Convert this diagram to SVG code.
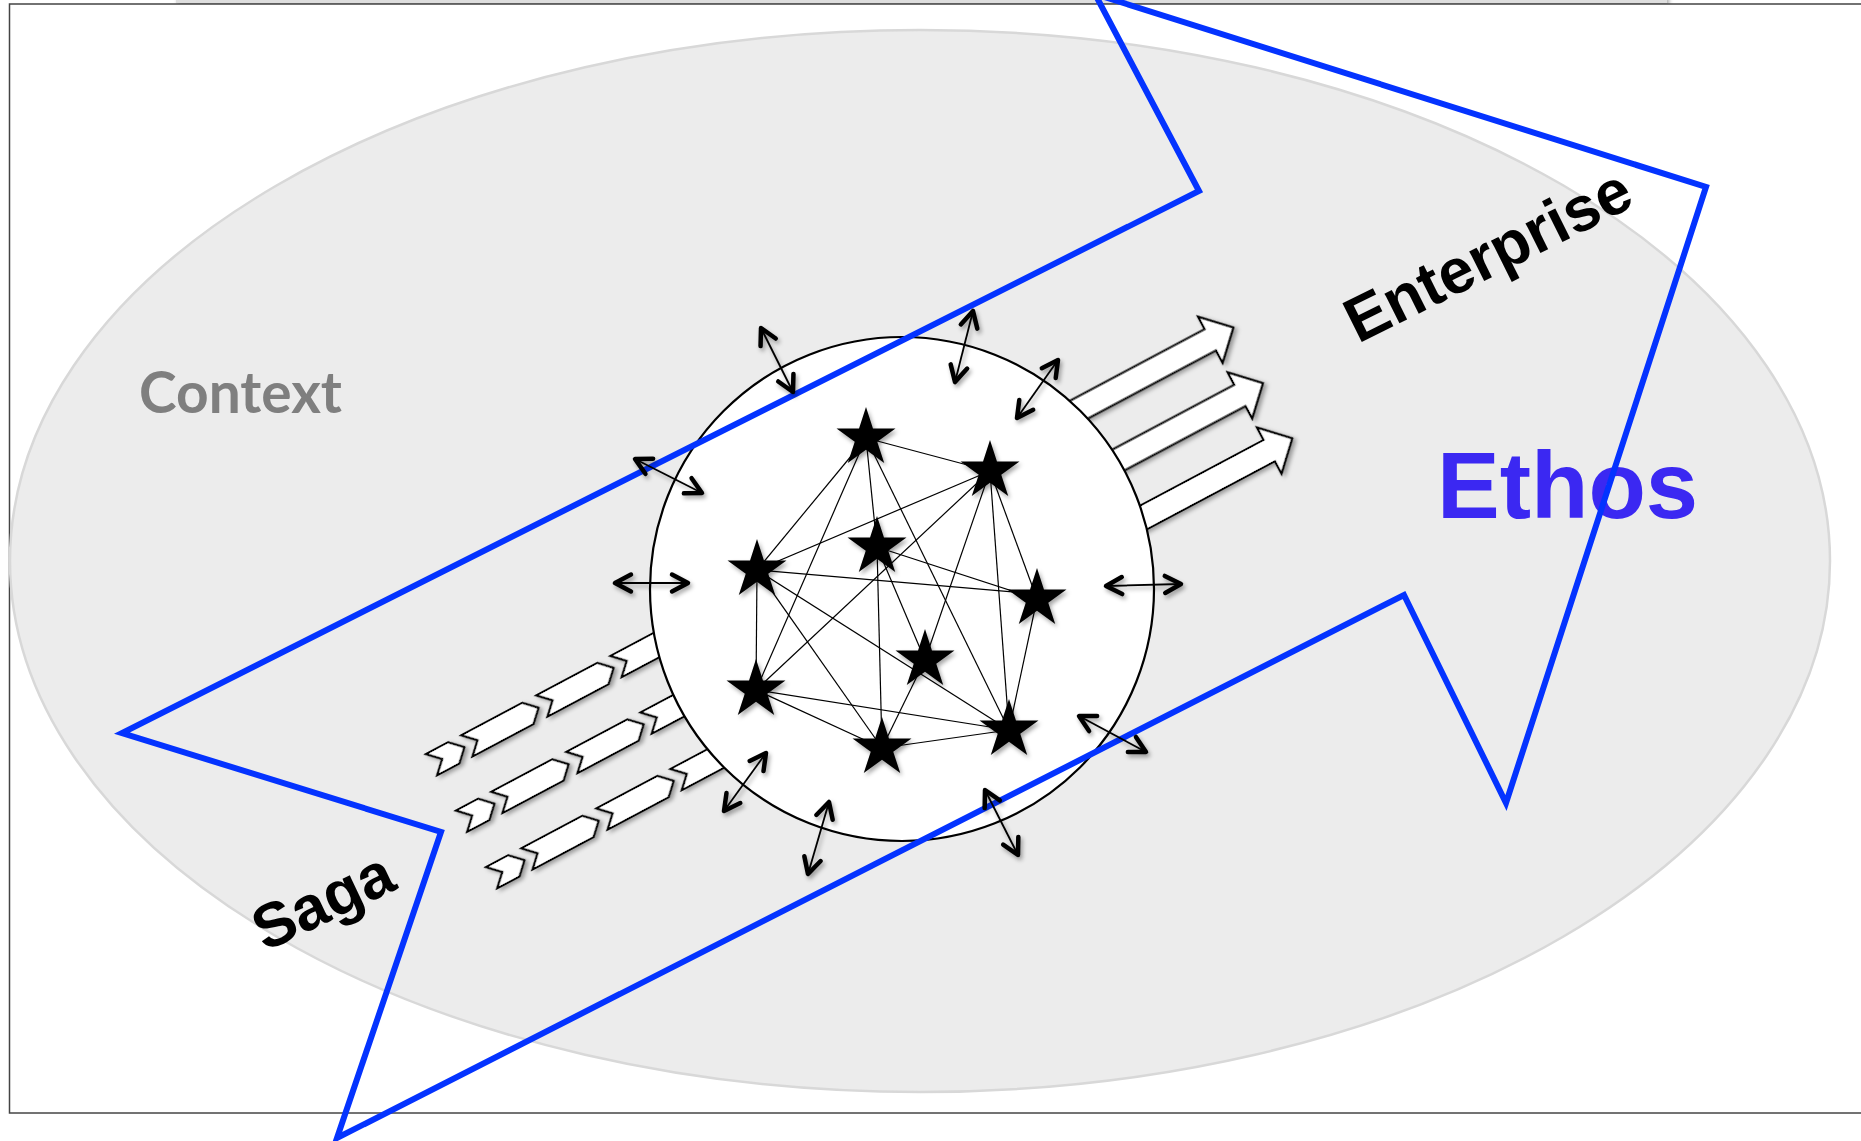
<svg xmlns="http://www.w3.org/2000/svg" width="1861" height="1141" viewBox="0 0 1861 1141">
<defs>
<style>
.page{fill:#fff;stroke:#444;stroke-width:1.5}
.ctx{fill:#ececec;stroke:#d8d8d8;stroke-width:2.5}
.blk{fill:#fff;stroke:#000;stroke-width:2.2;stroke-linejoin:miter}
.edge{stroke:#000;stroke-width:1.2;fill:none}
.star{fill:#000}
.dbl{stroke:#000;stroke-width:1.8;fill:none;marker-start:url(#dh);marker-end:url(#dh)}
.frame{fill:none;stroke:#0433ff;stroke-width:6;stroke-linejoin:miter}
.lbl{font-family:"Liberation Sans",Arial,sans-serif;font-weight:bold}
</style>
<filter id="sh" x="-20%" y="-20%" width="150%" height="150%">
<feDropShadow dx="2" dy="3" stdDeviation="2" flood-color="#000" flood-opacity="0.35"/>
</filter>
<marker id="dh" markerUnits="userSpaceOnUse" markerWidth="40" markerHeight="40" viewBox="-20 -20 40 40" refX="0" refY="0" orient="auto-start-reverse" overflow="visible">
<path d="M-16,-8.5 L0,0 L-16,8.5" fill="none" stroke="#000" stroke-width="4.5" stroke-linecap="round" stroke-linejoin="round"/>
</marker>
<path id="star" d="M0,-31 L6.96,-9.58 L29.48,-9.58 L11.26,3.66 L18.22,25.08 L0,11.84 L-18.22,25.08 L-11.26,3.66 L-29.48,-9.58 L-6.96,-9.58 Z"/>
</defs>

<rect x="0" y="0" width="1861" height="1141" fill="#fff"/>
<rect x="176" y="-6" width="1491" height="9" fill="#dedede" filter="url(#sh)"/>
<rect class="page" x="9.5" y="4" width="1900" height="1109"/>

<g id="context">
<ellipse class="ctx" cx="920" cy="561" rx="910" ry="531"/>
<text x="139" y="413" font-size="57" font-weight="bold" fill="#7f7f7f" textLength="203" lengthAdjust="spacingAndGlyphs" style="font-family:Lato,'Open Sans',sans-serif">Context</text>
</g>

<g id="saga-flows" transform="translate(426,754) rotate(-28)" filter="url(#sh)">
<polygon class="blk" points="0,0 25,0 37,12 25,24 0,24 12,12"/>
<polygon class="blk" points="40,0 109,0 121,12 109,24 40,24 52,12"/>
<polygon class="blk" points="125,0 194,0 206,12 194,24 125,24 137,12"/>
<polygon class="blk" points="209,0 468,0 480,12 468,24 209,24 221,12"/>
<polygon class="blk" points="0,64 25,64 37,76 25,88 0,88 12,76"/>
<polygon class="blk" points="40,64 109,64 121,76 109,88 40,88 52,76"/>
<polygon class="blk" points="125,64 194,64 206,76 194,88 125,88 137,76"/>
<polygon class="blk" points="209,64 468,64 480,76 468,88 209,88 221,76"/>
<polygon class="blk" points="0,128 25,128 37,140 25,152 0,152 12,140"/>
<polygon class="blk" points="40,128 109,128 121,140 109,152 40,152 52,140"/>
<polygon class="blk" points="125,128 194,128 206,140 194,152 125,152 137,140"/>
<polygon class="blk" points="209,128 468,128 480,140 468,152 209,152 221,140"/>
</g>

<g id="enterprise-flows" transform="translate(426,754) rotate(-28)" filter="url(#sh)">
<polygon class="blk" points="500,-9.5 887,-9.5 887,-23.5 913,2.5 887,28.5 887,14.5 500,14.5"/>
<polygon class="blk" points="500,53.5 887,53.5 887,39.5 913,65.5 887,91.5 887,77.5 500,77.5"/>
<polygon class="blk" points="500,116 887,116 887,102 913,128 887,154 887,140 500,140"/>
</g>

<g id="core">
<circle cx="902" cy="589" r="252" fill="#fff" stroke="#000" stroke-width="2.2"/>
</g>

<g id="connectors">
<line class="edge" x1="866" y1="438" x2="990" y2="471"/>
<line class="edge" x1="866" y1="438" x2="757" y2="570"/>
<line class="edge" x1="866" y1="438" x2="756" y2="690"/>
<line class="edge" x1="866" y1="438" x2="877" y2="547"/>
<line class="edge" x1="866" y1="438" x2="1009" y2="730"/>
<line class="edge" x1="990" y1="471" x2="757" y2="570"/>
<line class="edge" x1="990" y1="471" x2="756" y2="690"/>
<line class="edge" x1="990" y1="471" x2="925" y2="660"/>
<line class="edge" x1="990" y1="471" x2="1009" y2="730"/>
<line class="edge" x1="990" y1="471" x2="1037" y2="599"/>
<line class="edge" x1="877" y1="547" x2="1037" y2="599"/>
<line class="edge" x1="877" y1="547" x2="882" y2="748"/>
<line class="edge" x1="877" y1="547" x2="925" y2="660"/>
<line class="edge" x1="757" y1="570" x2="1037" y2="594"/>
<line class="edge" x1="757" y1="570" x2="756" y2="690"/>
<line class="edge" x1="757" y1="570" x2="882" y2="748"/>
<line class="edge" x1="757" y1="570" x2="1009" y2="730"/>
<line class="edge" x1="1037" y1="599" x2="1009" y2="730"/>
<line class="edge" x1="925" y1="660" x2="882" y2="748"/>
<line class="edge" x1="756" y1="690" x2="1009" y2="730"/>
<line class="edge" x1="756" y1="690" x2="882" y2="748"/>
<line class="edge" x1="882" y1="748" x2="1009" y2="730"/>
</g>

<g id="stars" filter="url(#sh)">
<use id="star1" href="#star" class="star" x="866" y="438"/>
<use id="star2" href="#star" class="star" x="990" y="471"/>
<use id="star3" href="#star" class="star" x="877" y="547"/>
<use id="star4" href="#star" class="star" x="757" y="570"/>
<use id="star5" href="#star" class="star" x="1037" y="599"/>
<use id="star6" href="#star" class="star" x="925" y="660"/>
<use id="star7" href="#star" class="star" x="756" y="690"/>
<use id="star8" href="#star" class="star" x="882" y="748"/>
<use id="star9" href="#star" class="star" x="1009" y="730"/>
</g>

<g id="ethos-frame">
<text class="lbl" x="1437" y="518" font-size="94" fill="#3b28f2">Ethos</text>
<polygon class="frame" points="1095,-6 1199,191 122,733 441,832 337,1138 1404,595 1506,803 1706,187"/>
<text class="lbl" font-size="63" fill="#000" transform="translate(1358,344) rotate(-26.5)">Enterprise</text>
<text class="lbl" font-size="62" fill="#000" transform="translate(265,952) rotate(-25.5)">Saga</text>
</g>

<g id="exchanges" filter="url(#sh)">
<line class="dbl" x1="761" y1="328" x2="793" y2="392"/>
<line class="dbl" x1="973" y1="311" x2="955" y2="382"/>
<line class="dbl" x1="1058" y1="360" x2="1017" y2="418"/>
<line class="dbl" x1="635" y1="459" x2="702" y2="493"/>
<line class="dbl" x1="615" y1="583" x2="688" y2="583"/>
<line class="dbl" x1="1106" y1="586" x2="1181" y2="584"/>
<line class="dbl" x1="1079" y1="716" x2="1146" y2="752"/>
<line class="dbl" x1="766" y1="753" x2="724" y2="811"/>
<line class="dbl" x1="829" y1="802" x2="808" y2="874"/>
<line class="dbl" x1="985" y1="790" x2="1018" y2="855"/>
</g>
</svg>
